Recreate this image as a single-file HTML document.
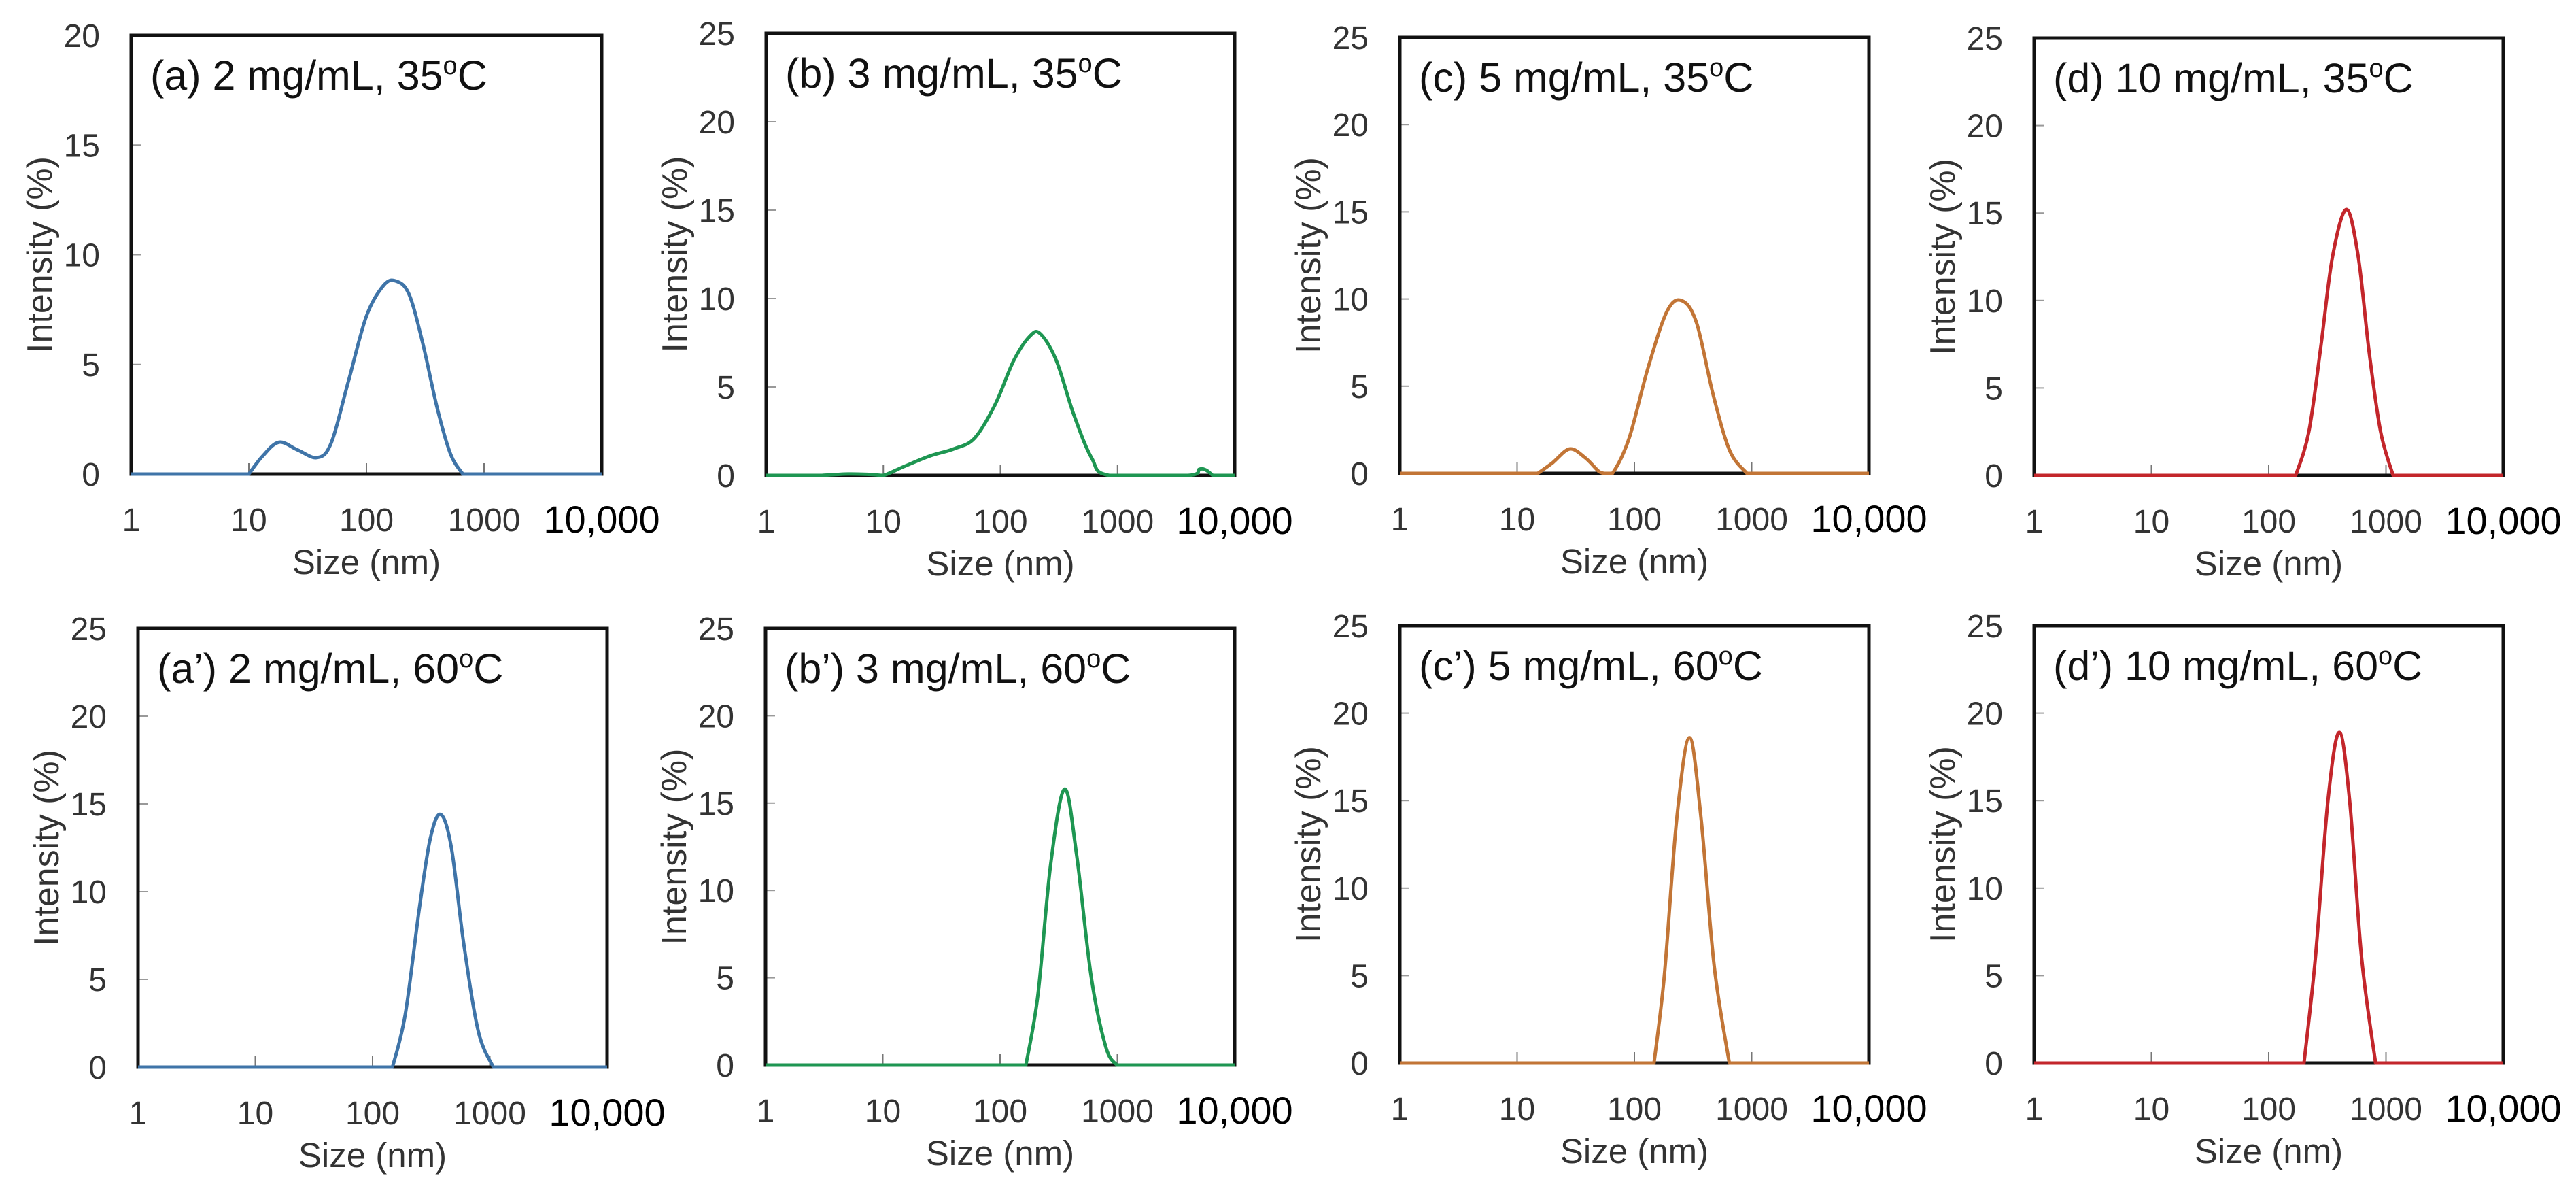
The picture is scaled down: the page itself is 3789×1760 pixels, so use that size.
<!DOCTYPE html>
<html><head><meta charset="utf-8">
<style>
html,body{margin:0;padding:0;background:#fff;}
svg{display:block;font-family:"Liberation Sans",Arial,sans-serif;}
</style></head>
<body>
<svg id="fig" width="3789" height="1760" viewBox="0 0 3789 1760" xmlns="http://www.w3.org/2000/svg"></svg>
<script>
// ---- data ----
const panelTitles = ["(a) 2 mg/mL, 35","(b) 3 mg/mL, 35","(c) 5 mg/mL, 35","(d) 10 mg/mL, 35",
                     "(a\u2019) 2 mg/mL, 60","(b\u2019) 3 mg/mL, 60","(c\u2019) 5 mg/mL, 60","(d\u2019) 10 mg/mL, 60"];
const yMaxes = [20,25,25,25,25,25,25,25];
const xTickLabels = ["1","10","100","1000"];
const xTickValues = [1,10,100,1000];
const seriesColors = ["#3f74a8","#1e9652","#c27536","#c3262b","#3f74a8","#1e9652","#c27536","#c3262b"];
const sizesA = [10,13,18,26,38,50,70,100,140,178,230,300,400,520,660];
const valsA  = [0,0.8,1.45,1.1,0.75,1.4,4.2,7.2,8.6,8.8,8.2,6,3,0.9,0];
const sizesB = [3,5,8,10,15,25,40,60,90,130,180,220,300,420,600,850,4000,5000,5700,6500];
const valsB  = [0,0.08,0.05,0,0.5,1.1,1.5,2.1,4,6.5,7.9,8.0,6.5,3.5,1,0,0,0.35,0.3,0];
const sizesC = [15,20,28,38,50,56,65,90,130,190,255,340,470,650,910];
const valsC  = [0,0.6,1.4,0.9,0.1,0,0,2,6,9.3,9.9,8.6,4.5,1.3,0];
const sizesD = [170,220,280,350,460,580,720,900,1150];
const valsD  = [0,2.5,7.5,12.5,15.2,12.5,7,2.5,0];
const sizesA2 = [148,190,250,310,380,470,600,800,1070];
const valsA2  = [0,3,9,13,14.4,12.5,7,2,0];
const sizesB2 = [166,210,270,355,450,600,800,990];
const valsB2  = [0,4,11.5,15.8,12,5,1,0];
const sizesC2 = [147,180,230,295,370,480,645];
const valsC2  = [0,5,14,18.6,14,5.5,0];
const sizesD2 = [200,250,320,400,490,620,815];
const valsD2  = [0,6,15,18.9,15,6,0];
const allSizes = [sizesA,sizesB,sizesC,sizesD,sizesA2,sizesB2,sizesC2,sizesD2];
const allVals = [valsA,valsB,valsC,valsD,valsA2,valsB2,valsC2,valsD2];
// ---- layout ----
const boxes = [[193,52,885,697],[1127,49,1816,699],[2059,55,2749,696],[2992,56,3682,699],
               [203,924,893,1569],[1126,924,1816,1566],[2059,920,2749,1563],[2992,920,3682,1563]];
const NS="http://www.w3.org/2000/svg";
const svg=document.getElementById('fig');
function mk(tag,attrs,parent){const e=document.createElementNS(NS,tag);for(const k in attrs)e.setAttribute(k,attrs[k]);(parent||svg).appendChild(e);return e;}
const names=["a","b","c","d","a-prime","b-prime","c-prime","d-prime"];
boxes.forEach((b,i)=>{
  const [L,T,R,B]=b;
  const g=mk('g',{});
  
  
  const xs=v=>L+(Math.log10(v)/4)*(R-L);
  const ys=v=>B-(v/yMaxes[i])*(B-T);
  for(let v=0;v<=yMaxes[i];v+=5){
    const y=ys(v);
    if(v>0&&v<yMaxes[i]){const t=mk('line',{x1:L,x2:L+14,y1:y,y2:y,stroke:'#999','stroke-width':2},g);
      }
    const tx=mk('text',{x:L-46,y:y+17,'text-anchor':'end','font-size':48,fill:'#333'},g);
    tx.textContent=String(v);
    
  }
  xTickValues.forEach((v,k)=>{
    const x=xs(v);
    if(k>0){const t=mk('line',{x1:x,x2:x,y1:B,y2:B-16,stroke:'#777','stroke-width':2},g);
      }
    const tx=mk('text',{x:x,y:B+84,'text-anchor':'middle','font-size':48,fill:'#333'},g);
    tx.textContent=xTickLabels[k];
    
  });
  const big=mk('text',{x:R,y:B+86,'text-anchor':'middle','font-size':56,fill:'#000'},g);
  big.textContent="10,000";
  
  const xt=mk('text',{x:(L+R)/2,y:B+147,'text-anchor':'middle','font-size':51,fill:'#333'},g);
  xt.textContent="Size (nm)";
  
  const cy=(T+B)/2, cx=L-135;
  const yt=mk('text',{x:cx,y:cy,'text-anchor':'middle','font-size':52,fill:'#333',transform:`rotate(-90 ${cx} ${cy}) translate(0 18)`},g);
  yt.textContent="Intensity (%)";
  
  const fr=mk('rect',{x:L,y:T,width:R-L,height:B-T,fill:'none',stroke:'#111','stroke-width':5},g);
  
  const sz=allSizes[i], vl=allVals[i];
  const pts=sz.map((s,k)=>[xs(s),ys(vl[k])]);
  let d=`M${L},${B} L${pts[0][0]},${pts[0][1]}`;
  for(let k=0;k<pts.length-1;k++){
    const p0=pts[Math.max(0,k-1)],p1=pts[k],p2=pts[k+1],p3=pts[Math.min(pts.length-1,k+2)];
    let c1y=p1[1]+(p2[1]-p0[1])/6, c2y=p2[1]-(p3[1]-p1[1])/6;
    c1y=Math.min(c1y,B); c2y=Math.min(c2y,B);
    d+=` C${p1[0]+(p2[0]-p0[0])/6},${c1y} ${p2[0]-(p3[0]-p1[0])/6},${c2y} ${p2[0]},${p2[1]}`;
  }
  d+=` L${R},${B}`;
  const path=mk('path',{d:d,fill:'none',stroke:seriesColors[i],'stroke-width':5,'stroke-linejoin':'round'},g);
  
  
  const tt=mk('text',{x:L+28,y:T+80,'font-size':61,fill:'#111'},g);
  tt.textContent=panelTitles[i];
  const sup=mk('tspan',{'font-size':38,dy:-23},tt);
  sup.textContent="o";
  const cc=mk('tspan',{dy:23},tt);
  cc.textContent="C";
  
});
</script>
</body></html>
